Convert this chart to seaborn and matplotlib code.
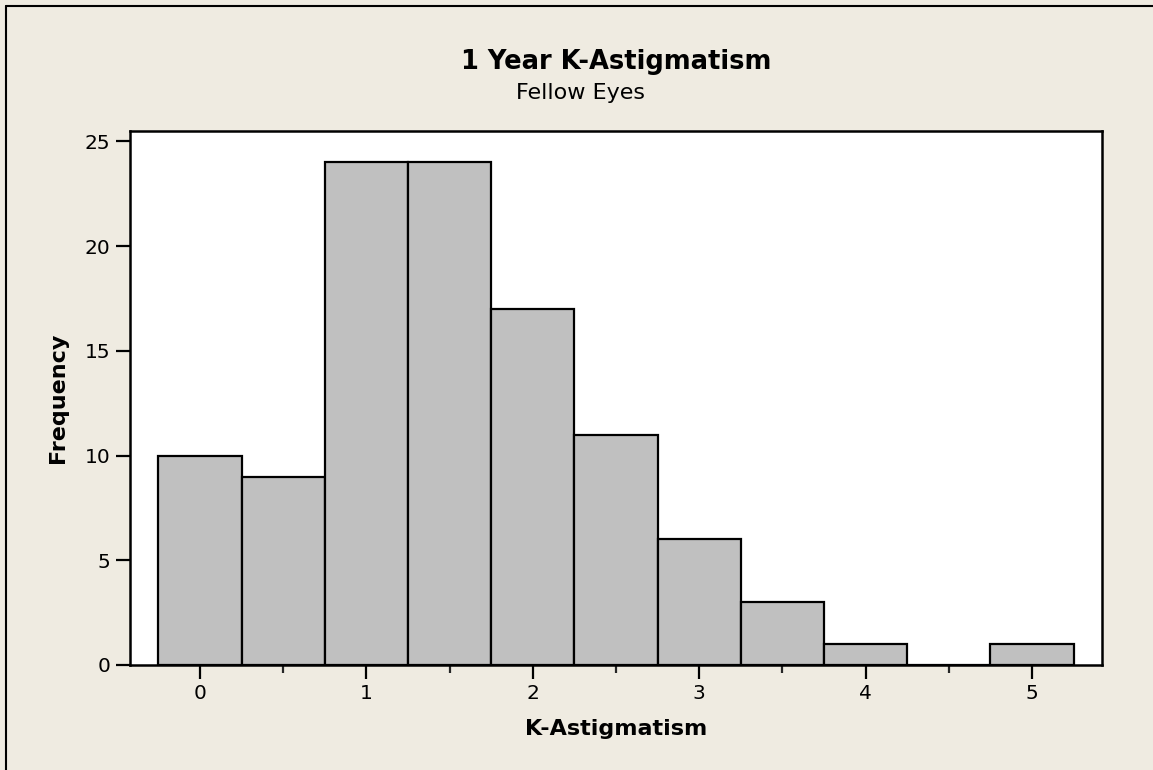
import matplotlib
matplotlib.use("Agg")
import matplotlib.pyplot as plt
import matplotlib.lines as mlines
from matplotlib.ticker import MultipleLocator
import seaborn as sns
import pandas as pd

# Data
bin_centers = [0.0, 0.5, 1.0, 1.5, 2.0, 2.5, 3.0, 3.5, 4.0, 4.5, 5.0]
frequencies = [10, 9, 24, 24, 17, 11, 6, 3, 1, 0, 1]
x_ticks = [0, 1, 2, 3, 4, 5]
y_ticks = [0, 5, 10, 15, 20, 25]

title = "1 Year K-Astigmatism"
subtitle = "Fellow Eyes"
x_label = "K-Astigmatism"
y_label = "Frequency"

df = pd.DataFrame({"value": bin_centers, "count": frequencies})

sns.set_theme(style="white")
plt.rcParams["font.family"] = ["DejaVu Sans"]
plt.rcParams["text.color"] = "black"
plt.rcParams["axes.labelcolor"] = "black"

bg = "#EFEBE1"
W, H = 1153, 770
fig = plt.figure(figsize=(W / 100, H / 100), dpi=100, facecolor=bg)
ax = fig.add_axes([130 / W, 1 - 665 / H, (1102 - 130) / W, (665 - 131) / H])
ax.set_facecolor("white")

sns.histplot(data=df, x="value", weights="count", binwidth=0.5,
             binrange=(-0.25, 5.25), color="#C0C0C0", alpha=1.0,
             edgecolor="black", linewidth=1.6, ax=ax)

ax.set_xlim(-0.42, 5.42)
ax.set_ylim(0, 25.5)
ax.set_xticks(x_ticks)
ax.set_yticks(y_ticks)
ax.xaxis.set_minor_locator(MultipleLocator(0.5))
ax.tick_params(axis="both", which="major", direction="out", length=10, width=1.6,
               labelsize=14.5, colors="black", pad=4, bottom=True, left=True)
ax.tick_params(axis="x", which="minor", direction="out", length=6, width=1.6, bottom=True)

for sp in ax.spines.values():
    sp.set_visible(True)
    sp.set_color("black")
    sp.set_linewidth(1.8)

ax.set_xlabel(x_label, fontsize=16, fontweight="bold", labelpad=11, color="black")
ax.set_ylabel(y_label, fontsize=16, fontweight="bold", labelpad=12, color="black")

fig.text(616 / W, 1 - 62 / H, title, ha="center", va="center",
         fontsize=18.5, fontweight="bold", color="black")
fig.text(581 / W, 1 - 93 / H, subtitle, ha="center", va="center",
         fontsize=16, color="black")

# figure border (left and top)
fig.add_artist(mlines.Line2D([6 / W, 6 / W], [0, 1 - 6 / H], color="black",
                             linewidth=1.5, transform=fig.transFigure))
fig.add_artist(mlines.Line2D([6 / W, 1], [1 - 6 / H, 1 - 6 / H], color="black",
                             linewidth=1.5, transform=fig.transFigure))

fig.savefig("out.png", dpi=100, facecolor=bg)
